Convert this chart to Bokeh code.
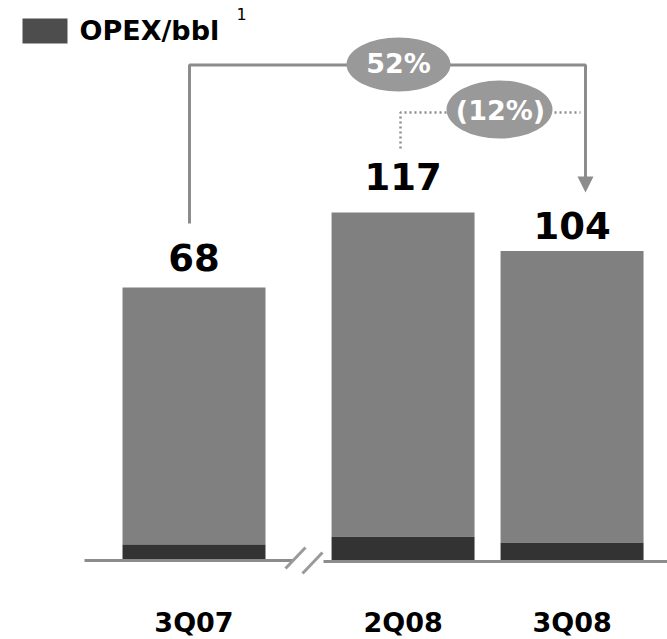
from bokeh.plotting import figure
from bokeh.models import Range1d, Arrow, NormalHead
from bokeh.core.properties import value
from bokeh.embed import file_html
from bokeh.resources import INLINE

# ---------------- data ----------------
CATEGORIES = ["3Q07", "2Q08", "3Q08"]
TOTAL = [68, 117, 104]          # OPEX/bbl, bar totals (labels)
DARK = [4, 8, 6]                # dark bottom segment of each bar
LEGEND_LABEL = "OPEX/bbl"
FOOTNOTE = "1"
CHANGE_LABELS = ["52%", "(12%)"]

# ---------------- layout (screen pixels) ----------------
W, H = 667, 639
OFF = 0
CENTER0 = 193.5     # screen x of first slot centre
SLOT = 169.0        # px per slot
GAP = 0.237         # extra gap (in slots) at the axis break
BASE_PX = 560       # baseline screen y
SCALE08 = 2.975     # px per unit, 2008 bars
SCALE07 = 4.015     # px per unit, 3Q07 bar (broken axis)
BAR_W = 0.846
LABEL_UP = [30, 36, 26]   # px from each bar top to its value-label centre
FONT = "DejaVu Sans"
GRAY = "#808080"
DARKC = "#333333"
LINEC = "#8c8c8c"
ELLC = "#999999"


def sx(px):
    return (px - CENTER0) / SLOT


def sy(py):
    return (BASE_PX - py) / SCALE08


def sy07(py):
    return (BASE_PX - py) / SCALE07


xs = [0.0] + [i + GAP for i in range(1, len(CATEGORIES))]

p = figure(width=W, height=H,
           x_range=Range1d(sx(OFF), sx(OFF + W)),
           y_range=Range1d(sy(OFF + H), sy(OFF)),
           x_axis_location=None, y_axis_location=None,
           output_backend="svg", toolbar_location=None, min_border=0)
p.extra_y_ranges = {"y07": Range1d(sy07(OFF + H), sy07(OFF))}
p.grid.visible = False
p.outline_line_color = None
p.background_fill_color = "white"
p.border_fill_color = "white"

# bars: 3Q07 on its own (broken) scale, 2008 bars on the main scale
p.vbar(x=xs[:1], width=BAR_W, bottom=DARK[:1], top=TOTAL[:1],
       fill_color=GRAY, line_color=None, y_range_name="y07")
p.vbar(x=xs[:1], width=BAR_W, bottom=0, top=DARK[:1],
       fill_color=DARKC, line_color=None, y_range_name="y07")
p.vbar(x=xs[1:], width=BAR_W, bottom=DARK[1:], top=TOTAL[1:],
       fill_color=GRAY, line_color=None)
p.vbar(x=xs[1:], width=BAR_W, bottom=0, top=DARK[1:],
       fill_color=DARKC, line_color=None)

# baseline with break
p.line([sx(84), sx(293)], [0, 0], line_color=LINEC, line_width=3)
p.line([sx(323), sx(670)], [sy(561), sy(561)], line_color=LINEC, line_width=3)
p.multi_line([[sx(285), sx(305)], [sx(302), sx(322)]],
             [[sy(568), sy(547)], [sy(573), sy(552)]],
             line_color="#9a9a9a", line_width=3)

# value labels
p.text(x=xs[:1], y=[TOTAL[0] + LABEL_UP[0] / SCALE07], text=[str(TOTAL[0])],
       y_range_name="y07", text_align="center", text_baseline="middle",
       text_font=value(FONT), text_font_style="bold", text_font_size="37px",
       text_color="black")
p.text(x=xs[1:], y=[t + u / SCALE08 for t, u in zip(TOTAL[1:], LABEL_UP[1:])],
       text=[str(t) for t in TOTAL[1:]],
       text_align="center", text_baseline="middle",
       text_font=value(FONT), text_font_style="bold", text_font_size="37px",
       text_color="black")

# category labels
p.text(x=xs, y=[sy(622)] * len(xs), text=CATEGORIES,
       text_align="center", text_baseline="middle",
       text_font=value(FONT), text_font_style="bold", text_font_size="27px",
       text_color="black")

# 52% bracket with arrow
p.line([sx(189), sx(189), sx(585), sx(585)],
       [sy(223), sy(64.5), sy(64.5), sy(178)],
       line_color=LINEC, line_width=3)
p.add_layout(Arrow(end=NormalHead(size=16, fill_color=LINEC, line_color=LINEC, line_width=0),
                   x_start=sx(585), y_start=sy(176), x_end=sx(585), y_end=sy(192),
                   line_color=LINEC, line_width=3))

# (12%) dotted connector
p.line([sx(400), sx(400), sx(580)], [sy(148), sy(112), sy(112)],
       line_color=LINEC, line_width=2.5, line_dash="2 3")

# ellipses
p.ellipse(x=[sx(398), sx(499)], y=[sy(64), sy(109)], width=[104, 106], height=[54, 58],
          width_units="screen", height_units="screen",
          fill_color=ELLC, line_color=None)
p.text(x=[sx(398), sx(500)], y=[sy(63), sy(110)], text=CHANGE_LABELS,
       text_align="center", text_baseline="middle",
       text_font=value(FONT), text_font_style="bold", text_font_size="27px",
       text_color="white")

# legend (swatch + label + footnote marker)
p.quad(left=[sx(22)], right=[sx(67)], top=[sy(18)], bottom=[sy(43)],
       fill_color="#4d4d4d", line_color=None)
p.text(x=[sx(79)], y=[sy(30)], text=[LEGEND_LABEL], text_align="left",
       text_baseline="middle", text_font=value(FONT), text_font_style="bold",
       text_font_size="27px", text_color="black")
p.text(x=[sx(236)], y=[sy(13)], text=[FOOTNOTE], text_align="left",
       text_baseline="middle", text_font=value(FONT),
       text_font_size="16px", text_color="black")

open("out.html", "w").write(file_html(p, INLINE))
